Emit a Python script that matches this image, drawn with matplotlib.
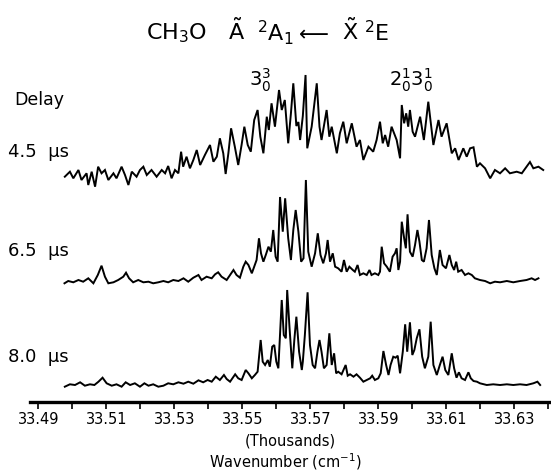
import matplotlib
matplotlib.use("Agg")
import matplotlib.pyplot as plt

plt.rcParams['font.family'] = ['DejaVu Sans']
plt.rcParams['mathtext.default'] = 'regular'

## Spectra (wavenumber in cm-1, signal above each baseline) ##
delays = ["4.5  \u03bcs", "6.5  \u03bcs", "8.0  \u03bcs"]

wn_45 = [33497.8, 33499.3, 33500.3, 33501.8, 33502.7, 33504.2, 33504.7, 33505.7, 33506.7, 33507.6,
         33508.6, 33509.6, 33510.6, 33512.1, 33513.0, 33514.5, 33515.5, 33516.5, 33517.5, 33518.9,
         33519.9, 33520.9, 33521.9, 33523.3, 33524.8, 33526.3, 33527.3, 33528.2, 33529.2, 33530.2,
         33531.2, 33532.0, 33532.6, 33533.6, 33534.6, 33535.6, 33536.6, 33537.6, 33539.0, 33540.5,
         33541.5, 33542.5, 33543.4, 33544.4, 33545.1, 33545.9, 33546.7, 33547.8, 33548.8, 33549.8,
         33550.6, 33551.6, 33552.5, 33553.5, 33554.5, 33555.3, 33556.2, 33557.2, 33557.8, 33558.6,
         33559.6, 33560.8, 33561.6, 33562.5, 33563.5, 33564.3, 33565.0, 33565.9, 33566.5, 33567.0,
         33567.8, 33568.6, 33569.1, 33570.4, 33571.9, 33572.7, 33573.3, 33574.8, 33575.6, 33576.3,
         33577.8, 33578.7, 33579.7, 33580.7, 33582.2, 33583.6, 33584.6, 33585.6, 33587.1, 33588.5,
         33589.5, 33590.5, 33591.3, 33592.0, 33592.9, 33593.9, 33595.4, 33596.4, 33596.9, 33597.6,
         33598.2, 33598.8, 33599.3, 33600.1, 33600.8, 33602.3, 33603.4, 33604.7, 33606.2, 33607.7,
         33608.6, 33610.1, 33611.6, 33612.6, 33613.6, 33615.0, 33616.0, 33617.0, 33618.0, 33619.0,
         33619.9, 33621.4, 33622.9, 33624.3, 33625.8, 33627.3, 33628.7, 33630.7, 33632.2, 33633.6,
         33634.6, 33635.6, 33637.1, 33638.5]
sig_45 = [-0.7, 4.3, -2.3, 6.0, -4.0, 2.7, -9.0, 4.3, -10.7, 9.3,
          2.7, 6.0, -4.0, 2.7, -2.3, 9.3, 1.0, -9.0, 4.3, -0.7,
          6.0, 9.3, 1.0, 6.0, -0.7, 6.0, 2.7, 10.0, -2.3, 6.0,
          2.7, 24.3, 9.3, 19.3, 7.7, 16.0, 26.0, 11.0, 21.0, 31.0,
          14.3, 19.3, 37.7, 22.7, 2.0, 22.7, 47.7, 29.3, 11.0, 31.3,
          49.3, 31.0, 24.3, 56.0, 66.0, 39.3, 22.7, 59.3, 46.0, 72.7,
          49.3, 86.0, 66.0, 76.0, 32.7, 62.7, 92.7, 50.0, 54.0, 36.0,
          60.0, 101.0, 27.7, 49.3, 92.7, 49.3, 36.0, 66.0, 39.3, 49.3,
          22.7, 42.7, 54.3, 32.7, 52.7, 29.3, 36.0, 16.0, 29.3, 24.3,
          36.0, 54.3, 32.7, 41.0, 29.3, 49.3, 36.0, 17.7, 71.0, 52.7,
          62.7, 49.3, 66.0, 44.3, 39.3, 59.3, 36.0, 74.3, 31.0, 56.0,
          39.3, 52.7, 22.7, 27.7, 16.0, 27.7, 19.3, 27.7, 28.7, 9.3,
          12.7, 7.7, -2.3, 6.0, 2.7, 7.7, 2.7, 4.3, 2.7, 9.3,
          14.0, 7.7, 9.3, 6.0]

wn_65 = [33497.7, 33498.8, 33500.3, 33501.8, 33503.2, 33504.7, 33506.2, 33507.5, 33508.6, 33509.6,
         33510.6, 33512.1, 33513.5, 33515.0, 33515.8, 33516.7, 33517.9, 33519.4, 33520.9, 33522.4,
         33523.8, 33525.3, 33526.8, 33528.2, 33529.7, 33531.2, 33532.7, 33534.1, 33535.6, 33537.1,
         33538.0, 33539.5, 33541.0, 33542.0, 33542.9, 33543.9, 33545.4, 33546.4, 33547.4, 33548.3,
         33549.3, 33550.3, 33551.0, 33551.8, 33552.8, 33553.5, 33554.2, 33554.9, 33555.5, 33556.2,
         33556.9, 33557.7, 33558.4, 33559.1, 33559.8, 33560.4, 33561.1, 33561.9, 33562.6, 33563.5,
         33564.3, 33565.0, 33565.7, 33566.5, 33567.3, 33568.0, 33568.7, 33569.4, 33570.4, 33571.4,
         33572.2, 33573.0, 33573.8, 33574.6, 33575.1, 33575.8, 33576.6, 33577.3, 33578.2, 33579.2,
         33579.9, 33580.7, 33581.5, 33582.5, 33583.1, 33583.9, 33584.6, 33585.6, 33586.6, 33587.4,
         33588.0, 33589.0, 33590.0, 33590.5, 33591.0, 33591.7, 33592.5, 33593.4, 33594.2, 33594.9,
         33595.4, 33595.9, 33596.4, 33596.9, 33597.6, 33598.1, 33598.6, 33599.3, 33600.1, 33600.8,
         33601.5, 33602.1, 33602.8, 33603.4, 33604.2, 33604.9, 33605.7, 33606.5, 33607.2, 33608.1,
         33608.9, 33609.9, 33610.9, 33611.6, 33612.3, 33612.9, 33613.5, 33614.5, 33615.5, 33616.5,
         33617.5, 33618.4, 33619.9, 33621.4, 33622.9, 33624.3, 33625.8, 33627.8, 33629.7, 33631.7,
         33633.6, 33635.1, 33636.1, 33637.1]
sig_65 = [-0.3, 2.0, 0.7, 3.0, 1.3, 4.7, -0.3, 8.0, 17.3, 6.3,
          -0.3, 0.7, 3.0, 6.3, 10.3, 4.7, 0.7, 3.0, 0.7, 1.3,
          -0.3, 0.7, 2.0, 0.7, 3.0, 2.0, 4.7, 1.3, 5.3, 8.0,
          3.0, 6.3, 4.7, 8.7, 10.7, 6.3, 3.0, 8.0, 13.0, 8.0,
          5.3, 16.3, 21.3, 18.0, 9.7, 16.3, 23.0, 44.7, 29.7, 21.3,
          28.0, 36.3, 31.3, 53.0, 26.3, 21.3, 86.0, 51.3, 84.7, 44.7,
          23.0, 53.0, 73.0, 51.3, 21.3, 24.7, 103.0, 31.3, 16.3, 29.7,
          49.7, 28.0, 19.7, 29.7, 43.0, 21.3, 29.7, 16.3, 14.7, 11.3,
          23.0, 11.3, 16.3, 13.0, 11.3, 18.0, 8.0, 9.7, 8.0, 13.0,
          8.0, 9.7, 8.0, 11.3, 36.3, 19.7, 16.3, 11.3, 26.3, 29.7,
          34.7, 13.0, 21.3, 61.3, 44.7, 34.7, 68.7, 31.3, 26.3, 38.0,
          53.0, 41.3, 23.0, 21.3, 34.7, 63.0, 28.0, 14.7, 8.0, 33.0,
          18.0, 14.7, 28.0, 18.0, 13.0, 21.3, 11.3, 13.0, 8.0, 9.7,
          8.0, 4.7, 3.0, 2.0, -0.3, 1.3, 0.7, 2.0, 0.7, 2.0,
          3.0, 4.7, 3.0, 4.7]

wn_80 = [33497.8, 33499.3, 33500.8, 33502.3, 33503.7, 33505.2, 33506.5, 33507.7, 33508.9, 33510.1,
         33511.6, 33513.0, 33514.5, 33515.7, 33517.0, 33518.4, 33519.9, 33521.2, 33522.4, 33523.8,
         33525.3, 33526.8, 33528.2, 33529.7, 33531.2, 33532.7, 33534.1, 33535.6, 33537.1, 33538.5,
         33539.8, 33541.0, 33542.2, 33543.4, 33544.6, 33545.4, 33546.4, 33547.9, 33548.8, 33549.8,
         33551.0, 33551.8, 33552.8, 33553.7, 33554.5, 33555.4, 33556.0, 33556.7, 33557.5, 33558.1,
         33558.8, 33559.4, 33560.0, 33560.6, 33561.6, 33562.2, 33562.8, 33563.2, 33563.9, 33564.7,
         33565.3, 33565.9, 33566.7, 33567.5, 33567.8, 33568.4, 33569.2, 33569.9, 33570.7, 33571.4,
         33572.1, 33572.7, 33573.3, 33574.0, 33574.8, 33575.6, 33576.3, 33577.0, 33577.6, 33578.2,
         33579.2, 33580.4, 33581.0, 33581.7, 33582.7, 33583.6, 33584.6, 33585.6, 33586.6, 33587.6,
         33588.2, 33589.0, 33590.0, 33590.7, 33591.5, 33592.3, 33593.0, 33593.6, 33594.4, 33595.1,
         33595.7, 33596.4, 33597.2, 33597.9, 33598.5, 33599.3, 33600.0, 33600.6, 33601.3, 33602.1,
         33602.9, 33603.7, 33604.7, 33605.4, 33606.2, 33607.2, 33608.1, 33608.9, 33609.7, 33610.6,
         33611.6, 33612.3, 33613.0, 33613.7, 33614.5, 33615.5, 33616.5, 33617.2, 33618.0, 33619.0,
         33619.9, 33621.9, 33623.8, 33625.8, 33627.8, 33629.7, 33631.7, 33633.6, 33635.6, 33636.8,
         33637.6]
sig_80 = [-1.7, 0.7, 0.0, 2.7, -0.7, 0.7, 0.0, 3.3, 7.3, 1.7,
          -0.7, 0.7, -1.7, 2.7, 0.0, 1.7, -1.7, 1.7, -0.7, 0.7,
          -1.7, -0.7, 1.7, 0.7, 2.7, 1.3, 3.3, 1.3, 4.7, 2.7,
          5.0, 3.3, 8.3, 5.0, 10.0, 6.0, 3.3, 10.7, 6.7, 5.0,
          15.0, 11.7, 6.7, 10.0, 13.3, 45.0, 23.3, 20.0, 25.0, 18.3,
          38.3, 40.0, 23.3, 16.7, 85.0, 50.0, 46.7, 95.0, 56.7, 16.7,
          45.0, 68.3, 33.3, 15.0, 23.3, 50.0, 92.7, 40.0, 20.0, 16.7,
          33.3, 45.0, 33.3, 16.7, 20.0, 51.7, 20.0, 31.7, 11.7, 13.3,
          10.7, 20.0, 9.3, 10.7, 8.3, 10.7, 7.3, 3.3, 5.0, 6.7,
          9.3, 5.0, 6.7, 11.7, 34.0, 20.0, 10.0, 20.0, 28.3, 27.3,
          29.3, 11.7, 33.3, 60.7, 33.3, 62.7, 30.0, 35.0, 46.7, 55.7,
          28.3, 16.7, 28.3, 63.3, 20.0, 10.0, 20.0, 28.3, 15.0, 10.0,
          31.7, 16.7, 7.3, 12.7, 6.7, 5.0, 12.7, 6.7, 4.0, 3.3,
          1.7, 0.0, 0.7, 0.0, 0.7, 0.0, 0.7, 0.0, 1.7, 3.3,
          0.0]

offsets = [226, 119, 17]   # baseline heights of the three traces
label_y = [152, 251, 357]  # label rows, pixels from top

W, H = 551, 472
fig = plt.figure(figsize=(W / 100, H / 100), dpi=100)
ax = fig.add_axes([30 / W, 1 - 402 / H, 1 - 30 / W, 402 / H])

for wn, sig, off in zip([wn_45, wn_65, wn_80], [sig_45, sig_65, sig_80], offsets):
    ax.plot([w / 1000 for w in wn], [s + off for s in sig], color='black', lw=1.4,
            solid_joinstyle='miter')

ax.set_xlim(33.48756, 33.64079)
ax.set_ylim(0, 402)
for s in ['top', 'left', 'right']:
    ax.spines[s].set_visible(False)
ax.spines['bottom'].set_linewidth(2.4)
ax.set_yticks([])
ticks = [33.49 + 0.01 * i for i in range(16)]
ax.set_xticks(ticks)
ax.set_xticklabels([f"{t:.2f}" if i % 2 == 0 else "" for i, t in enumerate(ticks)], fontsize=10.5)
ax.tick_params(axis='x', direction='out', length=5, width=1.2, pad=2.5)

# Title pieces, spaced like the original
fig.text(146 / W, 1 - 33 / H, r"CH$_3$O", ha='left', va='center', fontsize=16)
fig.text(237 / W, 1 - 31 / H, r"$\tilde{A}$", ha='center', va='center', fontsize=16)
fig.text(257 / W, 1 - 33 / H, r"$^2$A$_1$", ha='left', va='center', fontsize=16)
fig.text(311 / W, 1 - 33 / H, r"$\longleftarrow$", ha='center', va='center', fontsize=15)
fig.text(350 / W, 1 - 31 / H, r"$\tilde{X}$", ha='center', va='center', fontsize=16)
fig.text(364 / W, 1 - 33 / H, r"$^2$E", ha='left', va='center', fontsize=16)

fig.text(260 / W, 1 - 80 / H, r"$3^3_0$", ha='center', va='center', fontsize=14)
fig.text(411 / W, 1 - 80 / H, r"$2^1_0 3^1_0$", ha='center', va='center', fontsize=14)
fig.text(14 / W, 1 - 100 / H, "Delay", ha='left', va='center', fontsize=12.5)
for lab, yy in zip(delays, label_y):
    fig.text(8 / W, 1 - yy / H, lab, ha='left', va='center', fontsize=13)
fig.text(290 / W, 1 - 441 / H, "(Thousands)", ha='center', va='center', fontsize=10.5)
fig.text(285 / W, 1 - 462 / H, r"Wavenumber (cm$^{-1}$)", ha='center', va='center', fontsize=10.5)

fig.savefig("out.png", dpi=100)
